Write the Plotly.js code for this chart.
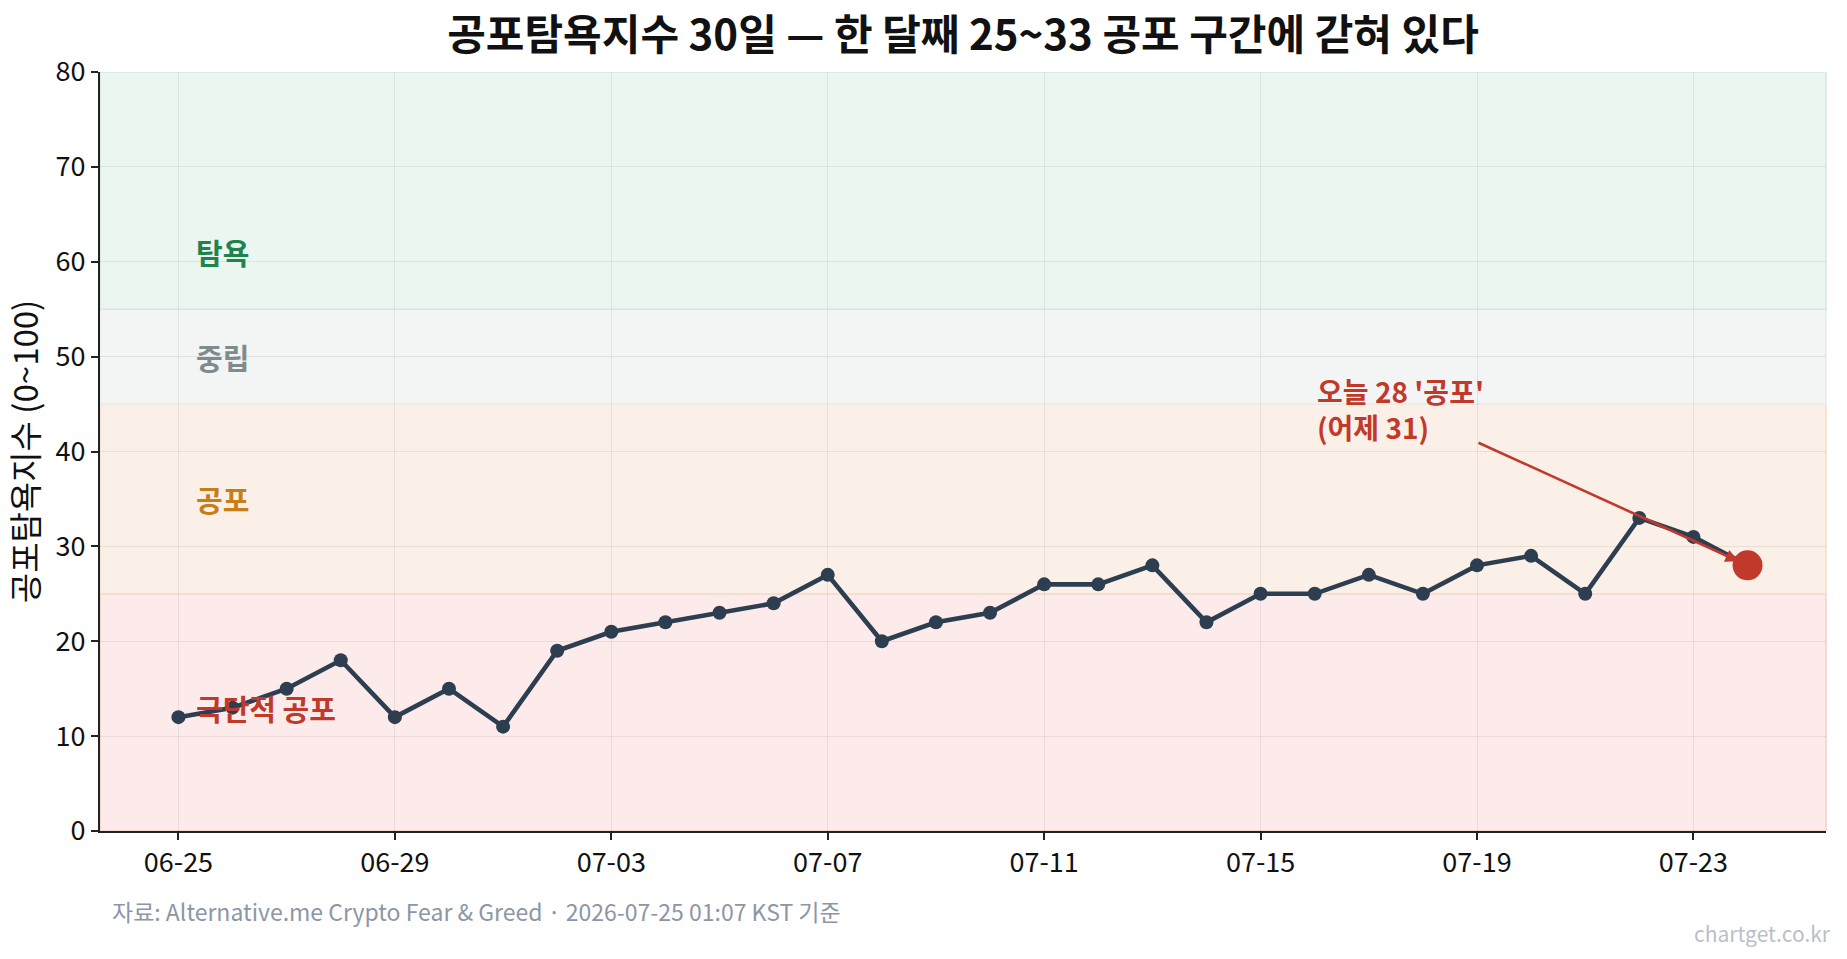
<!DOCTYPE html>
<html>
<head>
<meta charset="utf-8">
<script src="https://cdn.plot.ly/plotly-3.0.1.min.js"></script>
<style>
  html, body { margin: 0; padding: 0; background: #ffffff; }
  #chart { width: 1847px; height: 959px; }
</style>
</head>
<body>
<div id="chart"></div>
<script>
// Daily Crypto Fear & Greed index, last 30 days
const dates = [
  '2026-06-25','2026-06-26','2026-06-27','2026-06-28','2026-06-29','2026-06-30',
  '2026-07-01','2026-07-02','2026-07-03','2026-07-04','2026-07-05','2026-07-06',
  '2026-07-07','2026-07-08','2026-07-09','2026-07-10','2026-07-11','2026-07-12',
  '2026-07-13','2026-07-14','2026-07-15','2026-07-16','2026-07-17','2026-07-18',
  '2026-07-19','2026-07-20','2026-07-21','2026-07-22','2026-07-23','2026-07-24'
];
const fgi = [
  12, 13, 15, 18, 12, 15,
  11, 19, 21, 22, 23, 24,
  27, 20, 22, 23, 26, 26,
  28, 22, 25, 25, 27, 25,
  28, 29, 25, 33, 31, 28
];

// Sentiment zones (index ranges) and their labels
const zoneNames = ['극단적 공포', '공포', '중립', '탐욕'];
const zoneLow   = [0, 25, 45, 55];
const zoneHigh  = [25, 45, 55, 80];
const zoneLabelY = [13, 35, 50, 61];

// Callout text
const calloutText = "오늘 28 '공포'<br>(어제 31)";
const calloutAt = { x: '2026-07-16', y: 41 };
const arrowFrom = { x: '2026-07-19', y: 41 };

const sourceText = '자료: Alternative.me Crypto Fear &amp; Greed · 2026-07-25 01:07 KST 기준';
const siteText = 'chartget.co.kr';

const FONT = '"Noto Sans CJK KR", "Noto Sans", sans-serif';

const zoneFill   = ['#fcebea', '#fbf0e7', '#f3f5f5', '#ecf6f0'];
const zoneEdge   = ['#f6cfc8', '#f3dfcc', '#e8ecec', '#d3e9dc'];
const zoneColor  = ['#c0392b', '#c97d17', '#7f8c8d', '#1e8449'];

const shapes = zoneLow.map((lo, i) => ({
  type: 'rect', xref: 'paper', yref: 'y', layer: 'below',
  x0: 0, x1: 1, y0: lo, y1: zoneHigh[i],
  fillcolor: zoneFill[i],
  line: { color: zoneEdge[i], width: 1.5 }
}));

const annotations = zoneNames.map((name, i) => ({
  x: dates[0], y: zoneLabelY[i], xref: 'x', yref: 'y',
  xshift: 16, xanchor: 'left', yanchor: 'middle',
  text: name, showarrow: false,
  font: { family: FONT, size: 29, color: zoneColor[i], weight: 'bold' }
}));

const last = dates.length - 1;

// arrow from the callout to today's value
annotations.push({
  x: dates[last], y: fgi[last], xref: 'x', yref: 'y',
  ax: arrowFrom.x, ay: arrowFrom.y, axref: 'x', ayref: 'y',
  text: '', showarrow: true,
  arrowhead: 2, arrowsize: 1, arrowwidth: 2.6, arrowcolor: '#c0392b',
  standoff: 10
});
// two-line callout, left aligned above the arrow tail
annotations.push({
  x: calloutAt.x, y: calloutAt.y, xref: 'x', yref: 'y',
  xanchor: 'left', yanchor: 'middle', align: 'left',
  yshift: 33,
  text: calloutText, showarrow: false,
  font: { family: FONT, size: 28, color: '#c0392b', weight: 'bold' }
});
// source line and site mark under the plot
annotations.push({
  x: 0.0058, y: -0.105, xref: 'paper', yref: 'paper',
  xanchor: 'left', yanchor: 'middle', showarrow: false,
  text: sourceText,
  font: { family: FONT, size: 23, color: '#8c96a6' }
});
annotations.push({
  x: 1.004, y: -0.134, xref: 'paper', yref: 'paper',
  xanchor: 'right', yanchor: 'middle', showarrow: false,
  text: siteText,
  font: { family: FONT, size: 21, color: '#b9bfc9' }
});

const traces = [
  {
    x: dates, y: fgi, type: 'scatter', mode: 'lines+markers',
    line: { color: '#2c3e50', width: 4.6 },
    marker: { color: '#2c3e50', size: 14 },
    hoverinfo: 'x+y', showlegend: false
  },
  {
    x: [dates[last]], y: [fgi[last]], type: 'scatter', mode: 'markers',
    marker: { color: '#c0392b', size: 30 },
    hoverinfo: 'x+y', showlegend: false
  }
];

const layout = {
  width: 1847, height: 959,
  paper_bgcolor: '#ffffff', plot_bgcolor: '#ffffff',
  margin: { l: 100, r: 21, t: 72, b: 128 },
  font: { family: FONT, color: '#111111' },
  title: {
    text: '공포탐욕지수 30일 — 한 달째 25~33 공포 구간에 갇혀 있다',
    x: 0.5, xref: 'paper', xanchor: 'center',
    y: 1 - 35 / 959, yref: 'container', yanchor: 'middle',
    font: { family: FONT, size: 42, color: '#111111', weight: 'bold' }
  },
  xaxis: {
    type: 'date',
    range: ['2026-06-23 13:12', '2026-07-25 10:48'],
    tick0: '2026-06-25', dtick: 4 * 86400000,
    tickformat: '%m-%d',
    ticks: 'outside', ticklen: 7, tickwidth: 1.5, tickcolor: '#222222',
    tickfont: { family: FONT, size: 27, color: '#111111' },
    showline: true, linecolor: '#222222', linewidth: 2,
    showgrid: true, gridcolor: 'rgba(0,0,0,0.07)', gridwidth: 1,
    zeroline: false, fixedrange: true
  },
  yaxis: {
    range: [0, 80], dtick: 10,
    ticks: 'outside', ticklen: 7, tickwidth: 1.5, tickcolor: '#222222',
    tickfont: { family: FONT, size: 27, color: '#111111' },
    showline: true, linecolor: '#222222', linewidth: 2,
    showgrid: true, gridcolor: 'rgba(0,0,0,0.07)', gridwidth: 1,
    zeroline: false, fixedrange: true,
    title: {
      text: '공포탐욕지수 (0~100)', standoff: 10,
      font: { family: FONT, size: 33, color: '#111111' }
    }
  },
  shapes: shapes,
  annotations: annotations
};

Plotly.newPlot('chart', traces, layout, { displayModeBar: false, responsive: false });
</script>
</body>
</html>
